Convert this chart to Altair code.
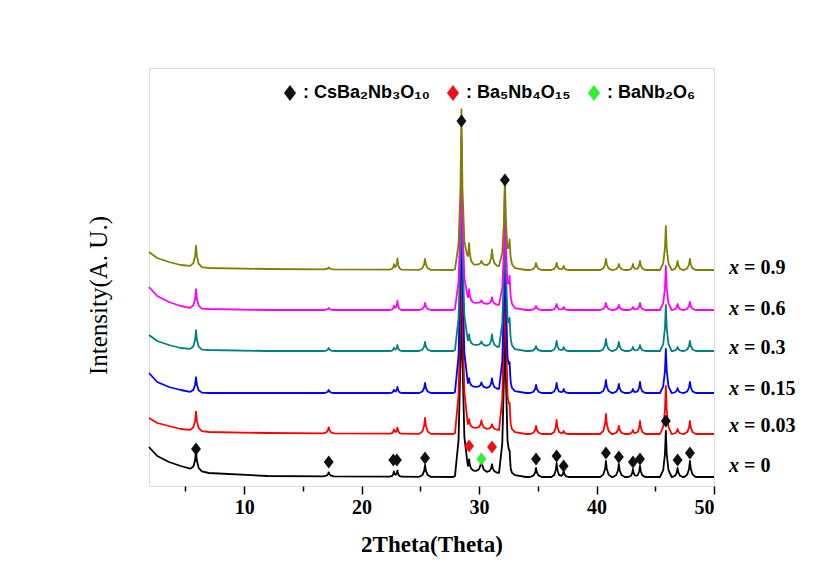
import altair as alt
import numpy as np
import pandas as pd

# ---------------- data ----------------
SAMPLES = ["x = 0", "x = 0.03", "x = 0.15", "x = 0.3", "x = 0.6", "x = 0.9"]
COLORS = ["#000000", "#ff0000", "#0000ff", "#008080", "#ff00ff", "#808000"]

# background (2theta, intensity) vertices per sample
BG_X = [1.9, 2.6, 3.6, 4.6, 5.5, 7.0, 12.0, 27.8, 28.9, 31.8, 33.0, 34.0, 50.0]
BG = {
    "x = 0":    [39, 30, 24, 20, 17, 13, 10, 9, 16, 13, 11, 9, 9],
    "x = 0.03": [68, 63, 60, 57, 56, 54, 53, 52, 59, 56, 54, 52, 52],
    "x = 0.15": [113, 104, 99, 96, 94, 93, 93, 93, 100, 97, 95, 93, 93],
    "x = 0.3":  [151, 145, 141, 138, 137, 136, 135, 135, 142, 139, 137, 135, 135],
    "x = 0.6":  [199, 190, 184, 180, 178, 177, 176, 176, 184, 181, 178, 176, 176],
    "x = 0.9":  [234, 228, 224, 221, 220, 218, 217, 216, 222, 220, 218, 216, 216],
}

# diffraction peaks: position, half base width, height above background per sample
PEAK_POS = [5.9, 17.2, 22.75, 23.05, 25.4, 28.5, 29.15, 30.2, 31.1, 32.2, 32.6,
            34.85, 36.6, 37.2, 40.8, 41.9, 43.1, 43.7, 45.9, 46.9, 47.95]
PEAK_HW = [0.5, 0.45, 0.35, 0.35, 0.5, 0.55, 0.4, 0.45, 0.45, 0.5, 0.45,
           0.5, 0.45, 0.4, 0.5, 0.5, 0.4, 0.45, 0.5, 0.45, 0.5]
PEAK_H = {
    "x = 0":    [19, 4, 5, 6, 12, 228, 11, 13, 8, 198, 13, 9, 14, 6, 16, 13, 8, 11, 46, 9, 16],
    "x = 0.03": [19, 6, 4, 6, 16, 238, 8, 8, 5, 208, 17, 8, 14, 3, 20, 8, 4, 13, 48, 5, 13],
    "x = 0.15": [15, 3, 3, 6, 10, 228, 8, 5, 10, 188, 18, 8, 10, 4, 13, 9, 4, 11, 44, 5, 11],
    "x = 0.3":  [19, 3, 3, 6, 9, 198, 10, 4, 12, 158, 22, 5, 10, 4, 12, 9, 4, 6, 46, 4, 10],
    "x = 0.6":  [19, 2, 4, 9, 7, 168, 13, 3, 7, 118, 25, 4, 6, 3, 7, 5, 3, 7, 44, 6, 8],
    "x = 0.9":  [21, 2, 5, 11, 11, 157, 21, 4, 16, 91, 23, 7, 7, 4, 11, 6, 6, 9, 44, 9, 11],
}

# phase markers
PHASES = ["CsBa\u2082Nb\u2083O\u2081\u2080", "Ba\u2085Nb\u2084O\u2081\u2085", "BaNb\u2082O\u2086"]
PHASE_COLORS = ["#111111", "#ee1111", "#33ee33"]
MARK_X = [5.9, 17.2, 22.7, 23.0, 25.4, 28.5, 32.2, 34.85, 36.6, 37.2, 40.8, 41.9,
          43.1, 43.7, 45.9, 46.9, 47.95, 29.15, 31.1, 30.2]
MARK_Y = [37, 24, 26, 26, 28, 365, 306, 27, 30, 20, 33, 29,
          24, 27, 65, 26, 33, 40, 39, 27]
MARK_PHASE = [PHASES[0]] * 17 + [PHASES[1], PHASES[1], PHASES[2]]

LABEL_Y = [20, 60, 97, 138, 177, 218]

# peak profile (fraction of half base width -> fraction of height)
PROF_D = [-1.0, -0.45, -0.15, 0.0, 0.15, 0.45, 1.0]
PROF_F = [0.0, 0.15, 0.5, 1.0, 0.5, 0.15, 0.0]

# ---------------- build line vertices ----------------
rows = []
for s in SAMPLES:
    xs = set(BG_X)
    for p, w in zip(PEAK_POS, PEAK_HW):
        xs.update(p + d * w for d in PROF_D)
    xs = np.array(sorted(v for v in xs if 1.9 <= v <= 50.0))
    ys = np.interp(xs, BG_X, BG[s])
    for p, w, h in zip(PEAK_POS, PEAK_HW, PEAK_H[s]):
        ys = ys + np.interp(xs, [p + d * w for d in PROF_D],
                            [f * h for f in PROF_F], left=0, right=0)
    for a, b in zip(xs, ys):
        rows.append({"tt": float(a), "I": float(b), "sample": s})
lines_df = pd.DataFrame(rows)
marks_df = pd.DataFrame({"tt": MARK_X, "I": MARK_Y, "phase": MARK_PHASE})
labels_df = pd.DataFrame({"tt": [50.0] * 6, "I": LABEL_Y,
                          "rest": [s.replace("x ", "") for s in SAMPLES]})

# ---------------- encodings ----------------
DIAMOND = "M0,-1L0.75,0L0,1L-0.75,0Z"
xscale = alt.Scale(domain=[1.9, 50], nice=False, zero=False)
yscale = alt.Scale(domain=[0, 418], nice=False, zero=False)
xaxis = alt.Axis(
    values=[5, 10, 15, 20, 25, 30, 35, 40, 45, 50],
    labelExpr="datum.value % 10 === 0 ? datum.label : ''",
    tickSize={"condition": {"test": "datum.value % 10 === 0", "value": 8}, "value": 5},
    tickColor="black", tickWidth=1.5, domain=False, grid=False,
    labelFont="Liberation Serif", labelFontWeight="bold", labelFontSize=20,
    labelColor="black", labelPadding=3,
    title="2Theta(Theta)", titleFont="Liberation Serif", titleFontWeight="bold",
    titleFontSize=23, titleColor="black", titlePadding=16,
)
yaxis = alt.Axis(
    ticks=False, labels=False, domain=False, grid=False,
    title="Intensity(A. U.)", titleFont="Liberation Serif", titleFontWeight="normal",
    titleFontSize=25, titleColor="black", titlePadding=38, titleY=227,
)
X = alt.X("tt:Q", scale=xscale, axis=xaxis)
Y = alt.Y("I:Q", scale=yscale, axis=yaxis)

layers = []
for s, c in zip(SAMPLES, COLORS):
    layers.append(
        alt.Chart(lines_df).transform_filter(alt.datum.sample == s)
        .mark_line(color=c, strokeWidth=1.8, strokeJoin="round")
        .encode(x=X, y=Y, order="tt:Q")
    )

markers = alt.Chart(marks_df).mark_point(
    filled=True, size=175, opacity=1, shape=DIAMOND
).encode(
    x=X, y=Y,
    color=alt.Color(
        "phase:N",
        scale=alt.Scale(domain=PHASES, range=PHASE_COLORS),
        legend=alt.Legend(
            orient="none", legendX=132, legendY=16, direction="horizontal",
            title=None, labelFont="Liberation Sans", labelFontWeight="bold",
            labelFontSize=18, labelColor="black", symbolType=DIAMOND,
            symbolSize=260, symbolStrokeWidth=0, symbolOpacity=1,
            labelExpr="': ' + datum.label", columnPadding=14, labelOffset=4,
            labelLimit=300,
        ),
    ),
)

txt_x = alt.Chart(labels_df).mark_text(
    text="x", font="Liberation Serif", fontSize=20, fontWeight="bold",
    fontStyle="italic", align="left", baseline="middle", dx=15, color="black"
).encode(x=X, y=Y)
txt_rest = alt.Chart(labels_df).mark_text(
    font="Liberation Serif", fontSize=20, fontWeight="bold",
    align="left", baseline="middle", dx=30, color="black"
).encode(x=X, y=Y, text="rest:N")

chart = alt.layer(*layers, markers, txt_x, txt_rest).properties(
    width=565, height=418,
    autosize=alt.AutoSizeParams(type="none"),
    padding={"left": 141, "top": 60, "right": 105, "bottom": 80},
).configure_view(stroke="black", strokeWidth=2).configure(background="white")

chart.save("out.html", embed_options={"renderer": "svg", "actions": False})
